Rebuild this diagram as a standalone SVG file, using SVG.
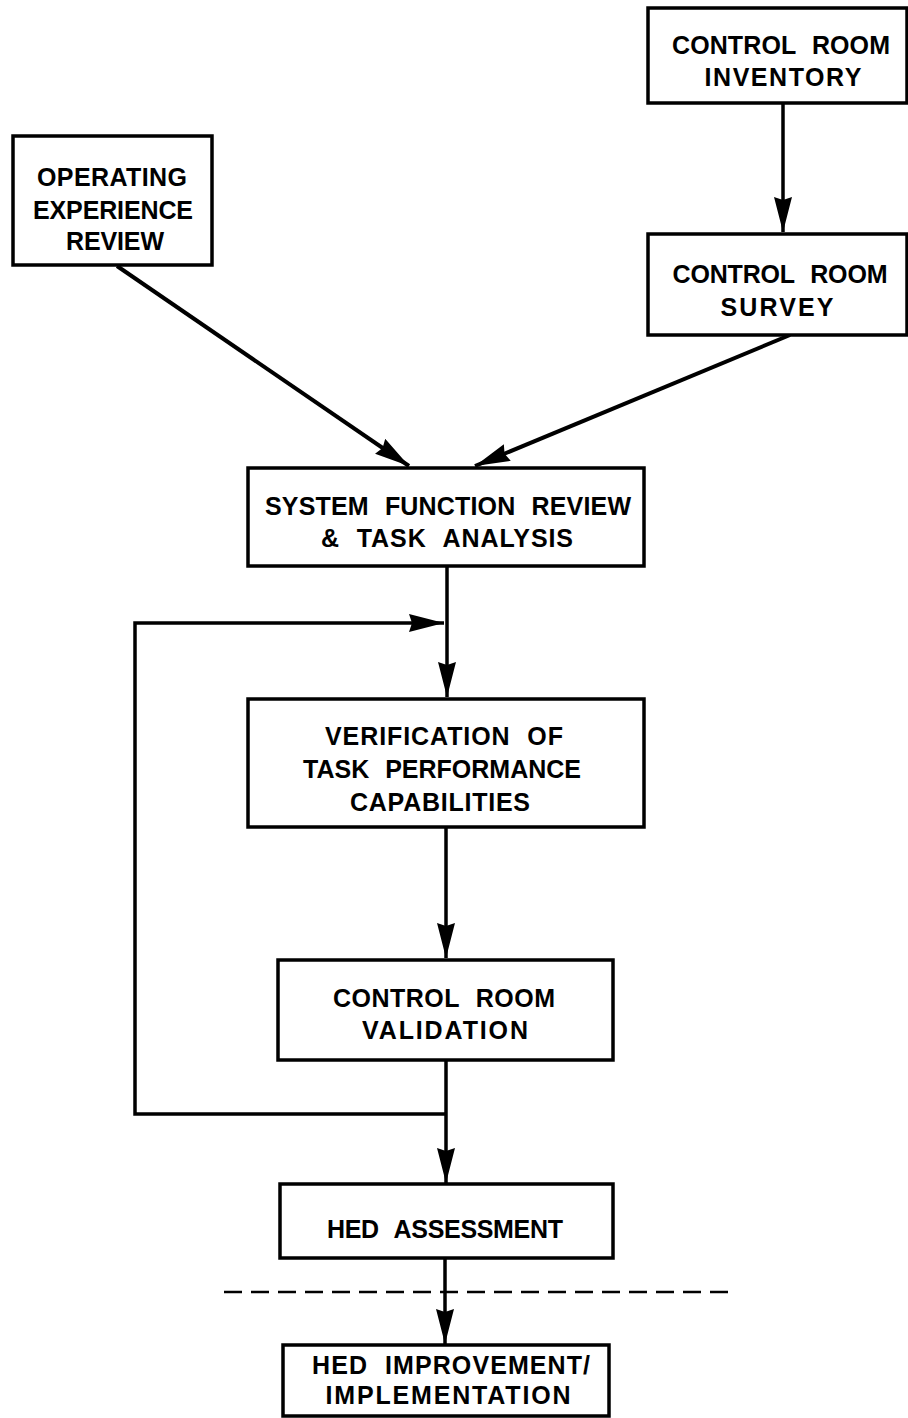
<svg xmlns="http://www.w3.org/2000/svg" width="908" height="1418" viewBox="0 0 908 1418">
  <style>
    .box { fill: #ffffff; stroke: #000000; stroke-width: 3.5; }
    .lbl { font-family: "Liberation Sans", Arial, sans-serif; font-weight: bold; font-size: 25px; word-spacing: 9px; fill: #000000; text-anchor: middle; }
    .wire { fill: none; stroke: #000000; stroke-width: 3.5; }
    .diag { stroke-width: 4; }
    .cut { fill: none; stroke: #000000; stroke-width: 2.5; stroke-dasharray: 18 9; }
  </style>
  <defs>
    <marker id="head" markerUnits="userSpaceOnUse" markerWidth="38" markerHeight="20" refX="35" refY="9" orient="auto">
      <path d="M0,0 L35,9 L0,18 L3,9 Z" fill="#000000"/>
    </marker>
  </defs>
  <rect width="908" height="1418" fill="#ffffff"/>

  <!-- connectors -->
  <g id="connectors">
    <line class="wire" x1="783" y1="103" x2="783" y2="232" marker-end="url(#head)"/>
    <line class="wire diag" x1="117" y1="266" x2="409" y2="466" marker-end="url(#head)"/>
    <line class="wire diag" x1="790" y1="335" x2="475" y2="466" marker-end="url(#head)"/>
    <line class="wire" x1="447" y1="566" x2="447" y2="697" marker-end="url(#head)"/>
    <polyline class="wire" points="446,1114 135,1114 135,623 444,623" marker-end="url(#head)"/>
    <line class="wire" x1="446" y1="827" x2="446" y2="958" marker-end="url(#head)"/>
    <line class="wire" x1="446" y1="1060" x2="446" y2="1183" marker-end="url(#head)"/>
    <line class="wire" x1="445" y1="1258" x2="445" y2="1344" marker-end="url(#head)"/>
    <line class="cut" x1="224" y1="1292" x2="734" y2="1292"/>
  </g>

  <g id="inventory">
    <rect class="box" x="648" y="8" width="259" height="95"/>
    <text class="lbl" x="781" y="54" textLength="218">CONTROL ROOM</text>
    <text class="lbl" x="783" y="86" textLength="157">INVENTORY</text>
  </g>

  <g id="operating-experience">
    <rect class="box" x="13" y="136" width="199" height="129"/>
    <text class="lbl" x="112" y="186" textLength="150">OPERATING</text>
    <text class="lbl" x="113" y="219" textLength="160">EXPERIENCE</text>
    <text class="lbl" x="115" y="250" textLength="98">REVIEW</text>
  </g>

  <g id="survey">
    <rect class="box" x="648" y="234" width="259" height="101"/>
    <text class="lbl" x="780" y="283" textLength="215">CONTROL ROOM</text>
    <text class="lbl" x="777" y="316" textLength="113">SURVEY</text>
  </g>

  <g id="system-function">
    <rect class="box" x="248" y="468" width="396" height="98"/>
    <text class="lbl" x="448" y="515" textLength="366">SYSTEM FUNCTION REVIEW</text>
    <text class="lbl" x="447" y="547" textLength="252">&amp; TASK ANALYSIS</text>
  </g>

  <g id="verification">
    <rect class="box" x="248" y="699" width="396" height="128"/>
    <text class="lbl" x="444" y="745" textLength="238">VERIFICATION OF</text>
    <text class="lbl" x="442" y="778" textLength="278">TASK PERFORMANCE</text>
    <text class="lbl" x="440" y="811" textLength="180">CAPABILITIES</text>
  </g>

  <g id="validation">
    <rect class="box" x="278" y="960" width="335" height="100"/>
    <text class="lbl" x="444" y="1007" textLength="222">CONTROL ROOM</text>
    <text class="lbl" x="445" y="1039" textLength="166">VALIDATION</text>
  </g>

  <g id="hed-assessment">
    <rect class="box" x="280" y="1184" width="333" height="74"/>
    <text class="lbl" x="445" y="1238" textLength="236">HED ASSESSMENT</text>
  </g>

  <g id="hed-improvement">
    <rect class="box" x="283" y="1345" width="326" height="71"/>
    <text class="lbl" x="451" y="1374" textLength="278">HED IMPROVEMENT/</text>
    <text class="lbl" x="448" y="1404" textLength="245">IMPLEMENTATION</text>
  </g>
</svg>
